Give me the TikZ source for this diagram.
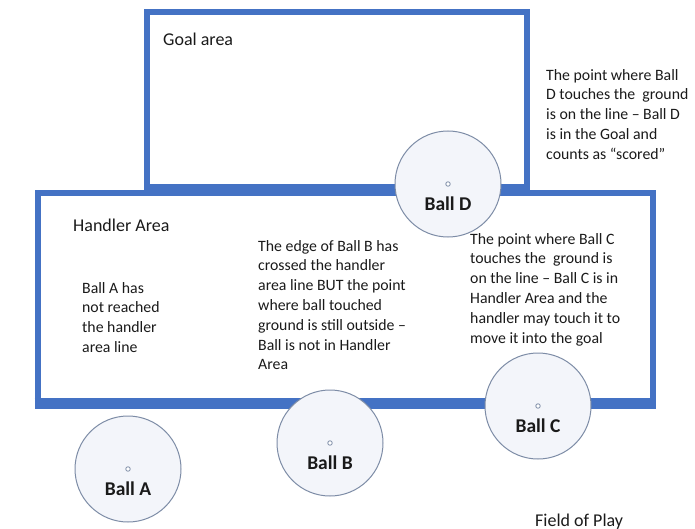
\documentclass[tikz,border=0pt]{standalone}
\usepackage{fontspec}
\setmainfont{Carlito}
\definecolor{lineblue}{HTML}{4472C4}
\definecolor{ballfill}{HTML}{F3F5FA}
\definecolor{ballrim}{HTML}{7D8CA6}
\definecolor{ink}{HTML}{1A1A1A}
\tikzset{
  field/.style={draw=lineblue, line width=6pt},
  ball/.style={circle, draw=ballrim, line width=1pt, fill=ballfill, minimum size=106pt, inner sep=0pt},
  centredot/.style={circle, draw=ballrim, line width=0.8pt, fill=white, minimum size=4.5pt, inner sep=0pt},
  balllabel/.style={font=\fontsize{19.5}{22}\selectfont\bfseries, text=ink, inner sep=0pt},
  note/.style={font=\fontsize{15.8}{19.8}\selectfont, align=left, anchor=north west, inner sep=0pt, text=ink},
  title/.style={font=\fontsize{18}{21}\selectfont, anchor=base west, inner sep=0pt, text=ink}
}
\begin{document}
\begin{tikzpicture}[x=1pt,y=-1pt]
  \useasboundingbox (0,0) rectangle (695,529);

  % goal area and handler area outlines
  \draw[field] (147,12) rectangle (527,187);
  \draw[field] (37.5,403.5) -- (37.5,193) -- (652.5,193) -- (652.5,403.5);
  \draw[lineblue, line width=11pt] (34.5,403.5) -- (655.5,403.5);

  % area titles
  \node[title] (goaltitle) at (163,46) {Goal area};
  \node[title] (handlertitle) at (73,231) {Handler Area};
  \node[title] (fieldtitle) at (535,526) {Field of Play};

  % explanatory notes
  \node[note] (noteA) at (82,282) {Ball A has\\not reached\\the handler\\area line};
  \node[note] (noteB) at (258,240) {The edge of Ball B has\\crossed the handler\\area line BUT the point\\where ball touched\\ground is still outside --\\Ball is not in Handler\\Area};
  \node[note] (noteC) at (470,233) {The point where Ball C\\touches the\ \ ground is\\on the line -- Ball C is in\\Handler Area and the\\handler may touch it to\\move it into the goal};
  \node[note] (noteD) at (546,69) {The point where Ball\\D touches the\ \ ground\\is on the line -- Ball D\\is in the Goal and\\counts as “scored”};

  % the four balls
  \foreach \n/\cx/\cy in {A/128/469, B/330/443, C/538/406, D/448/184}{
    \node[ball] (ball\n) at (\cx,\cy) {};
    \node[centredot] (dot\n) at (ball\n.center) {};
    \node[balllabel, yshift=-20pt] (label\n) at (ball\n.center) {Ball \n};
  }
\end{tikzpicture}
\end{document}
